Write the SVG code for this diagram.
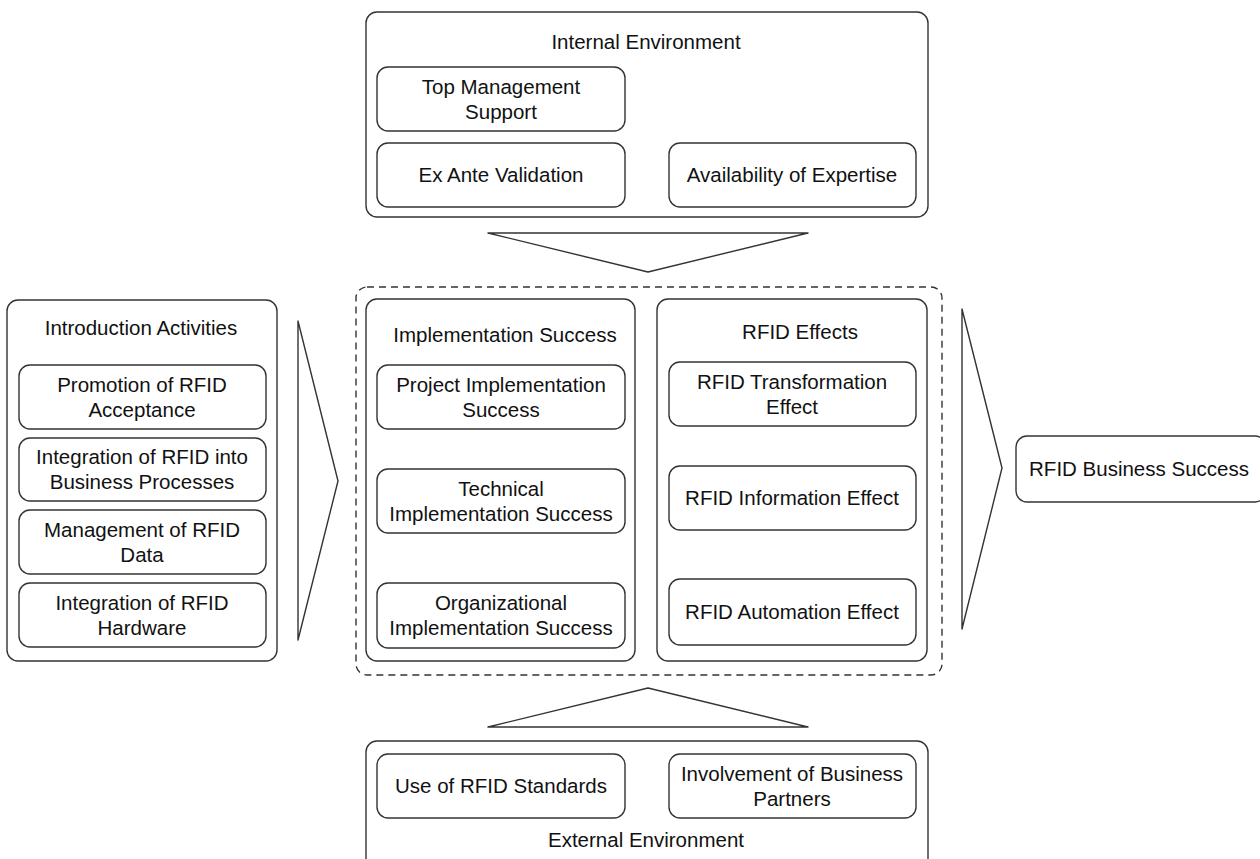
<svg xmlns="http://www.w3.org/2000/svg" width="1260" height="859" viewBox="0 0 1260 859">
<style>
.box{fill:#fff;stroke:#333;stroke-width:1.4}
.grp{fill:#fff;stroke:#333;stroke-width:1.4}
.dash{fill:none;stroke:#333;stroke-width:1.4;stroke-dasharray:7 5}
.arr{fill:#fff;stroke:#333;stroke-width:1.4;stroke-linejoin:round}
text{font-family:"Liberation Sans",Arial,Helvetica,sans-serif;font-size:20.5px;fill:#111;text-anchor:middle}
</style>
<rect width="1260" height="859" fill="#fff"/>
<g id="connectors">
<polygon class="arr" points="488,233 808,233 648,272"/>
<polygon class="arr" points="488,727 808,727 648,688"/>
<polygon class="arr" points="298,321 338,481 298,640"/>
<polygon class="arr" points="962,309 1002,468 962,629"/>
</g>
<g id="internal-env">
<rect class="grp" x="366" y="12" width="562" height="205" rx="11"/>
<text x="646" y="49">Internal Environment</text>
</g>
<g id="top-mgmt"><rect class="box" x="377" y="67" width="248" height="64" rx="11"/><text x="501" y="94">Top Management</text><text x="501" y="119">Support</text></g>
<g id="ex-ante"><rect class="box" x="377" y="143" width="248" height="64" rx="11"/><text x="501" y="182">Ex Ante Validation</text></g>
<g id="expertise"><rect class="box" x="669" y="143" width="247" height="64" rx="11"/><text x="792" y="182">Availability of Expertise</text></g>
<g id="center-group"><rect class="dash" x="356" y="287" width="586" height="388" rx="11"/></g>
<g id="impl-success">
<rect class="grp" x="366" y="299" width="269" height="362" rx="11"/>
<text x="505" y="342">Implementation Success</text>
</g>
<g id="project-impl"><rect class="box" x="377" y="365" width="248" height="64" rx="11"/><text x="501" y="392">Project Implementation</text><text x="501" y="417">Success</text></g>
<g id="tech-impl"><rect class="box" x="377" y="469" width="248" height="64" rx="11"/><text x="501" y="496">Technical</text><text x="501" y="521">Implementation Success</text></g>
<g id="org-impl"><rect class="box" x="377" y="583" width="248" height="65" rx="11"/><text x="501" y="610">Organizational</text><text x="501" y="635">Implementation Success</text></g>
<g id="rfid-effects">
<rect class="grp" x="657" y="299" width="270" height="362" rx="11"/>
<text x="800" y="339">RFID Effects</text>
</g>
<g id="transformation"><rect class="box" x="669" y="362" width="247" height="64" rx="11"/><text x="792" y="389">RFID Transformation</text><text x="792" y="414">Effect</text></g>
<g id="information"><rect class="box" x="669" y="466" width="247" height="64" rx="11"/><text x="792" y="505">RFID Information Effect</text></g>
<g id="automation"><rect class="box" x="669" y="579" width="247" height="66" rx="11"/><text x="792" y="619">RFID Automation Effect</text></g>
<g id="intro-activities">
<rect class="grp" x="7" y="300" width="270" height="361" rx="11"/>
<text x="141" y="335">Introduction Activities</text>
</g>
<g id="promotion"><rect class="box" x="19" y="365" width="247" height="64" rx="11"/><text x="142" y="392">Promotion of RFID</text><text x="142" y="417">Acceptance</text></g>
<g id="integration-bp"><rect class="box" x="19" y="438" width="247" height="63" rx="11"/><text x="142" y="464">Integration of RFID into</text><text x="142" y="489">Business Processes</text></g>
<g id="data-mgmt"><rect class="box" x="19" y="510" width="247" height="64" rx="11"/><text x="142" y="537">Management of RFID</text><text x="142" y="562">Data</text></g>
<g id="hardware"><rect class="box" x="19" y="583" width="247" height="64" rx="11"/><text x="142" y="610">Integration of RFID</text><text x="142" y="635">Hardware</text></g>
<g id="business-success"><rect class="box" x="1016" y="436" width="250" height="66" rx="11"/><text x="1139" y="476">RFID Business Success</text></g>
<g id="external-env">
<rect class="grp" x="366" y="741" width="562" height="130" rx="11"/>
<text x="646" y="847">External Environment</text>
</g>
<g id="standards"><rect class="box" x="377" y="754" width="248" height="64" rx="11"/><text x="501" y="793">Use of RFID Standards</text></g>
<g id="partners"><rect class="box" x="669" y="754" width="247" height="64" rx="11"/><text x="792" y="781">Involvement of Business</text><text x="792" y="806">Partners</text></g>
</svg>
